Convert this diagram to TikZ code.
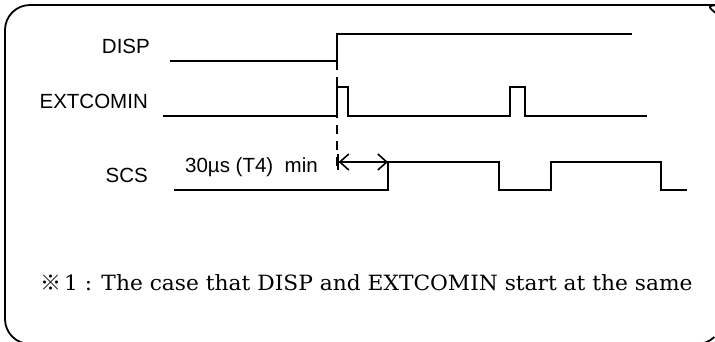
\documentclass[tikz,border=0pt]{standalone}
\usepackage{fontspec}
\setmainfont{Liberation Sans}
\newfontfamily\notefont{DejaVu Serif}
\newfontfamily\cjkfont{Noto Sans CJK JP}
\usetikzlibrary{arrows.meta}
\tikzset{
  sig/.style={line width=1.8pt, line join=miter},
  lbl/.style={inner sep=0pt, font=\fontsize{20.5}{24}\selectfont},
  frame/.style={line width=1.8pt, rounded corners=25pt},
  dim/.style={line width=1.6pt, {Bar[width=16pt,line width=1.6pt]Straight Barb[length=9pt,width=16pt,line width=1.6pt]}-{Straight Barb[length=9pt,width=16pt,line width=1.6pt]}},
  guide/.style={line width=1.8pt, dash pattern=on 9pt off 7pt}
}
\begin{document}
\begin{tikzpicture}[x=1pt,y=-1pt]
\useasboundingbox (0,0) rectangle (715,341);
% frame (partly beyond the page)
\draw[frame] (697,344) -- (5,344) -- (5,5) -- (697,5) arc[start angle=-90, end angle=-44, radius=25];
\draw[line width=1.8pt] (697,344) arc[start angle=90, end angle=46, radius=25];
% labels
\node[lbl, anchor=base east] (disp) at (150,53) {DISP};
\node[lbl, anchor=base east] (ext) at (148,108) {EXTCOMIN};
\node[lbl, anchor=base east] (scs) at (148,182) {SCS};
\node[lbl, anchor=base west] (t4) at (185,172) {30µs (T4)\ \ min};
% DISP
\draw[sig] (170,61) -- (337,61) -- (337,34) -- (632,34);
% EXTCOMIN
\draw[sig] (163,116) -- (337,116) -- (337,87) -- (348,87) -- (348,116) -- (510,116) -- (510,87) -- (525,87) -- (525,116) -- (647,116);
% SCS
\draw[sig] (174,190) -- (388,190) -- (388,162) -- (499,162) -- (499,190) -- (551,190) -- (551,162) -- (661,162) -- (661,190) -- (687,190);
% guide
\coordinate (g0) at (337,61);
\coordinate (g1) at (337,168);
\draw[guide] (g0) -- (g1);
% dimension
\coordinate (a0) at (337,162);
\coordinate (a1) at (388,162);
\draw[dim] (a0) -- (a1);
% note
\node[inner sep=0pt, anchor=base west, font=\fontsize{21}{24}\cjkfont] (mark) at (40,290) {※};
\node[inner sep=0pt, anchor=base west, font=\fontsize{21}{24}\notefont] (note) at (64,290) {\scalebox{1.036}[1]{1 : The case that DISP and EXTCOMIN start at the same}};
\end{tikzpicture}
\end{document}
